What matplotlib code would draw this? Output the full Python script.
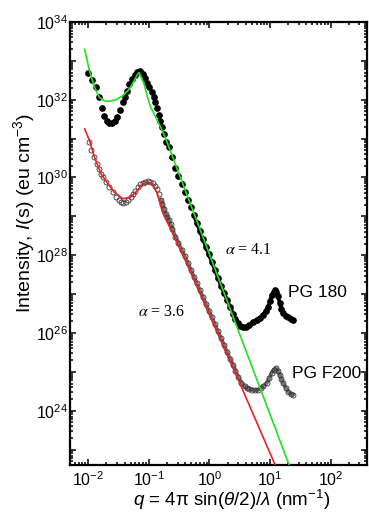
import numpy as np
import matplotlib
matplotlib.use("Agg")
import matplotlib.pyplot as plt
from matplotlib.ticker import LogLocator, FixedLocator, FuncFormatter, NullFormatter

plt.rcParams["font.family"] = ["Liberation Sans", "DejaVu Sans"]
plt.rcParams["mathtext.fontset"] = "custom"
plt.rcParams["mathtext.rm"] = "Liberation Sans"
plt.rcParams["mathtext.it"] = "Liberation Sans:italic"
plt.rcParams["mathtext.default"] = "regular"

# values, stored as log10(q) and log10(I)
pg180_logq = [-2.00, -1.934, -1.88, -1.825, -1.776, -1.733, -1.689, -1.65, -1.607,
              -1.557, -1.525, -1.475, -1.431, -1.398, -1.366, -1.323, -1.279, -1.235,
              -1.192, -1.148, -1.104, -1.066, -1.028, -0.989, -0.951, -0.918, -0.896,
              -0.864, -0.840, -0.815, -0.787, -0.749, -0.71, -0.667, -0.611,
              -0.56, -0.51, -0.46, -0.41, -0.36, -0.31, -0.26, -0.21, -0.16, -0.11,
              -0.06, -0.01, 0.04, 0.09, 0.14, 0.19, 0.24, 0.29, 0.34, 0.39, 0.43,
              0.47, 0.51, 0.56, 0.61, 0.66, 0.72, 0.78, 0.84, 0.89, 0.93, 0.97,
              1.00, 1.03, 1.06, 1.08, 1.10, 1.13, 1.16, 1.19, 1.22, 1.26, 1.30,
              1.34, 1.38]
pg180_logI = [32.70, 32.51, 32.32, 32.06, 31.79, 31.59, 31.46, 31.39, 31.39,
              31.46, 31.56, 31.74, 31.93, 32.08, 32.23, 32.40, 32.53, 32.64,
              32.72, 32.73, 32.67, 32.57, 32.44, 32.32, 32.19, 32.06, 31.93,
              31.80, 31.62, 31.45, 31.29, 31.12, 30.91, 30.78, 30.52,
              30.24, 30.03, 29.82, 29.63, 29.43, 29.23, 29.04, 28.84, 28.63, 28.42,
              28.22, 28.02, 27.82, 27.62, 27.42, 27.22, 27.03, 26.86, 26.68, 26.50, 26.37,
              26.26, 26.19, 26.15, 26.16, 26.21, 26.29, 26.34, 26.39, 26.47, 26.57, 26.67,
              26.82, 26.97, 27.06, 27.10, 27.06, 26.95, 26.78, 26.61, 26.51, 26.44, 26.40,
              26.36, 26.33]

f200_logq = [-1.995, -1.951, -1.897, -1.857, -1.815, -1.787, -1.759, -1.705, -1.651,
             -1.595, -1.541, -1.487, -1.46, -1.42, -1.38, -1.34, -1.30, -1.267, -1.23,
             -1.185, -1.14, -1.103, -1.06, -1.021, -0.98, -0.939, -0.90, -0.87, -0.84,
             -0.80, -0.775, -0.745, -0.721, -0.695, -0.667, -0.64, -0.611,
             -0.56, -0.51, -0.46, -0.41, -0.36, -0.31, -0.26, -0.21, -0.16, -0.11,
             -0.06, -0.01, 0.04, 0.09, 0.14, 0.19, 0.24, 0.29, 0.34, 0.39, 0.43,
             0.48, 0.53, 0.58, 0.618, 0.66, 0.71, 0.76, 0.808, 0.85, 0.89, 0.946,
             0.99, 1.028, 1.06, 1.098, 1.13, 1.164, 1.19, 1.218, 1.26, 1.30, 1.34, 1.382]
f200_logI = [30.91, 30.71, 30.52, 30.35, 30.22, 30.09, 30.01, 29.88, 29.75,
             29.62, 29.51, 29.41, 29.38, 29.35, 29.36, 29.42, 29.50, 29.58, 29.66,
             29.75, 29.82, 29.86, 29.89, 29.90, 29.89, 29.86, 29.79, 29.70, 29.58,
             29.43, 29.32, 29.19, 29.07, 28.98, 28.90, 28.79, 28.68,
             28.47, 28.31, 28.14, 27.98, 27.81, 27.63, 27.45, 27.28, 27.10, 26.93,
             26.75, 26.57, 26.40, 26.22, 26.04, 25.87, 25.69, 25.51, 25.34, 25.17, 25.03,
             24.86, 24.72, 24.63, 24.59, 24.56, 24.54, 24.53, 24.54, 24.58, 24.63, 24.71,
             24.84, 24.97, 25.05, 25.09, 25.02, 24.92, 24.81, 24.71, 24.59, 24.49, 24.44, 24.41]

# fitted curves (green for PG 180, red for PG F200)
green_logq = [-2.06, -1.979, -1.897, -1.815, -1.733, -1.65, -1.541, -1.431, -1.323,
              -1.241, -1.185, -1.159, -1.077, -1.021, -0.967, -0.885, -0.803, -0.721, 1.40]
green_logI = [33.30, 32.74, 32.32, 32.06, 31.97, 31.96, 32.00, 32.10, 32.27,
              32.49, 32.66, 32.70, 32.40, 32.06, 31.80, 31.55, 31.29, 31.00, 22.26]
red_logq = [-2.06, -1.979, -1.897, -1.787, -1.677, -1.569, -1.459, -1.431, -1.295,
            -1.185, -1.103, -1.021, -0.939, -0.857, -0.775, -0.393, 0.454, 1.20]
red_logI = [31.25, 30.95, 30.52, 30.09, 29.84, 29.62, 29.49, 29.45, 29.50,
            29.67, 29.84, 29.88, 29.84, 29.58, 29.11, 27.87, 24.88, 22.19]

y_label_exps = [24, 26, 28, 30, 32, 34]
x_label_exps = [-2, -1, 0, 1, 2]

q180, i180 = 10.0 ** np.array(pg180_logq), 10.0 ** np.array(pg180_logI)
q200, i200 = 10.0 ** np.array(f200_logq), 10.0 ** np.array(f200_logI)

fig = plt.figure(figsize=(3.69, 5.13), dpi=100)
ax = fig.add_axes([70 / 369, 48 / 513, 297 / 369, 443 / 513])
ax.set_xscale("log")
ax.set_yscale("log")

# PG 180 - filled dots, the dense high-q part drawn as a band
dense = np.array(pg180_logq) >= -0.3
ax.plot(q180[dense], i180[dense], color="black", lw=2.6, solid_capstyle="round", zorder=2)
ax.plot(q180, i180, "o", ms=3.8, color="black", zorder=2)

# PG F200 - open circles
dense2 = np.array(f200_logq) >= -0.8
ax.plot(q200[dense2], i200[dense2], color="0.45", lw=2.8, solid_capstyle="round", zorder=2)
ax.plot(q200, i200, "o", ms=3.6, mfc="none", mec="0.2", mew=0.6, zorder=2)

# fits
ax.plot(10.0 ** np.array(green_logq), 10.0 ** np.array(green_logI), color="#22e022", lw=1.2, zorder=3)
ax.plot(10.0 ** np.array(red_logq), 10.0 ** np.array(red_logI), color="#f02020", lw=1.2, zorder=3)

ax.set_xlim(5e-3, 4e2)
ax.set_ylim(4e22, 1e34)

ax.xaxis.set_major_locator(LogLocator(base=10, numticks=20))
ax.xaxis.set_minor_locator(LogLocator(base=10, subs=range(2, 10), numticks=20))
ax.xaxis.set_major_formatter(FuncFormatter(
    lambda v, p: "$10^{%d}$" % round(np.log10(v)) if round(np.log10(v)) in x_label_exps else ""))
ax.xaxis.set_minor_formatter(NullFormatter())

ax.yaxis.set_major_locator(FixedLocator([10.0 ** e for e in range(22, 35)]))
ax.yaxis.set_minor_locator(LogLocator(base=10, subs=range(2, 10), numticks=30))
ax.yaxis.set_major_formatter(FuncFormatter(
    lambda v, p: "$10^{%d}$" % round(np.log10(v)) if round(np.log10(v)) in y_label_exps else ""))
ax.yaxis.set_minor_formatter(NullFormatter())

ax.tick_params(which="both", direction="in", top=True, right=True, width=1.1, labelsize=11.5)
ax.tick_params(which="major", length=4.5)
ax.tick_params(which="minor", length=2.5)
ax.tick_params(axis="y", pad=1.5)
for s in ax.spines.values():
    s.set_linewidth(1.6)

ax.set_ylabel("Intensity, $\\mathit{I}$(s) (eu cm$^{-3}$)", fontsize=14)
ax.yaxis.set_label_coords(-0.11, 0.57)
ax.set_xlabel("$\\mathit{q}$ = 4π sin($\\mathit{\\theta}$/2)/$\\mathit{\\lambda}$ (nm$^{-1}$)", fontsize=13.5)
ax.xaxis.set_label_coords(0.545, -0.052)

ax.text(19.7, 1.1e27, "PG 180", fontsize=12.5, ha="left", va="center")
ax.text(22.9, 8.9e24, "PG F200", fontsize=12.5, ha="left", va="center")
ax.text(4.5, 1.4e28, "$\\mathit{\\alpha}$ = 4.1", fontsize=11.5, ha="center", va="center",
        family="Liberation Serif", math_fontfamily="stix")
ax.text(0.163, 3.5e26, "$\\mathit{\\alpha}$ = 3.6", fontsize=11.5, ha="center", va="center",
        family="Liberation Serif", math_fontfamily="stix")

fig.savefig("out.png", dpi=100)
